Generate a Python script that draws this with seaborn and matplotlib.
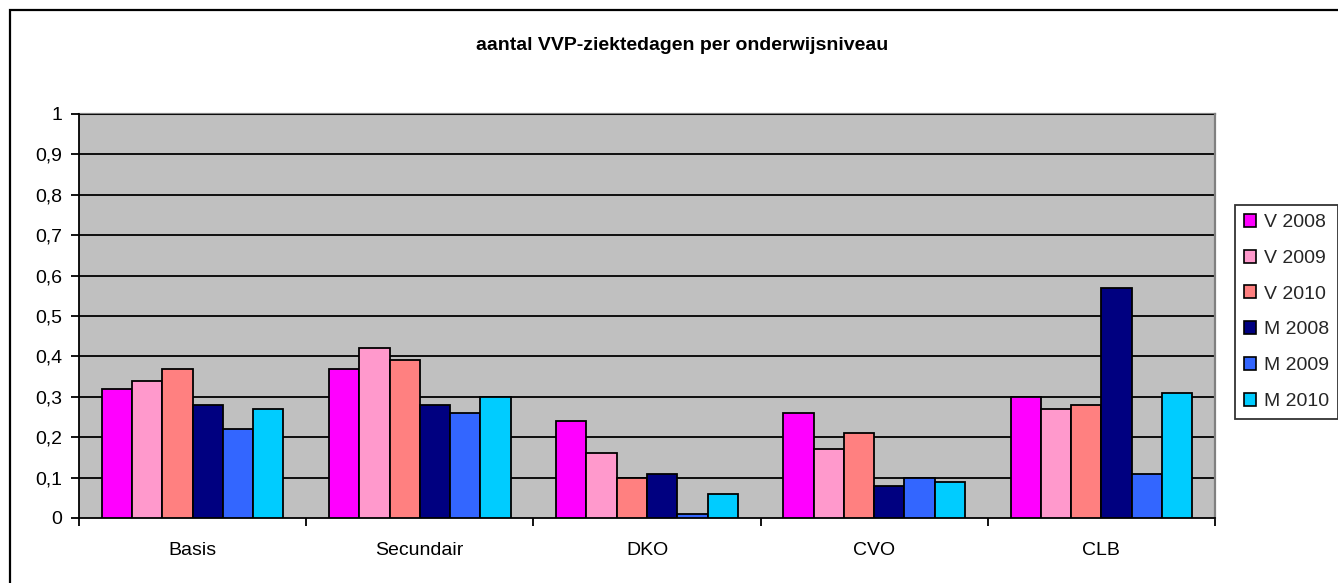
import matplotlib
matplotlib.use("Agg")
import matplotlib.pyplot as plt
from matplotlib.patches import Rectangle
from matplotlib.ticker import FixedLocator, FuncFormatter
import seaborn as sns
import pandas as pd

categories = ["Basis", "Secundair", "DKO", "CVO", "CLB"]
series = ["V 2008", "V 2009", "V 2010", "M 2008", "M 2009", "M 2010"]
v2008 = [0.32, 0.37, 0.24, 0.26, 0.30]
v2009 = [0.34, 0.42, 0.16, 0.17, 0.27]
v2010 = [0.37, 0.39, 0.10, 0.21, 0.28]
m2008 = [0.28, 0.28, 0.11, 0.08, 0.57]
m2009 = [0.22, 0.26, 0.01, 0.10, 0.11]
m2010 = [0.27, 0.30, 0.06, 0.09, 0.31]
colors = ["#FF00FF", "#FF99CC", "#FF8080", "#000080", "#3366FF", "#00CCFF"]

values = [v2008, v2009, v2010, m2008, m2009, m2010]
rows = []
for name, vals in zip(series, values):
    for cat, v in zip(categories, vals):
        rows.append({"niveau": cat, "reeks": name, "dagen": v})
df = pd.DataFrame(rows)

sns.set_theme(style="white")
plt.rcParams["font.family"] = ["Liberation Sans", "DejaVu Sans"]

W, H = 1338, 583
fig = plt.figure(figsize=(W / 100, H / 100), dpi=100)
fig.patch.set_facecolor("white")

# outer chart frame
fig.add_artist(Rectangle((10 / W, -0.1), 1.2, 1 - 10 / H + 0.1,
                         transform=fig.transFigure, fill=False,
                         edgecolor="black", linewidth=1.6))

ax = fig.add_axes([79 / W, 1 - 518 / H, (1215 - 79) / W, (518 - 114) / H])
ax.set_facecolor("#C0C0C0")

sns.barplot(data=df, x="niveau", y="dagen", hue="reeks", order=categories,
            hue_order=series, palette=colors, width=0.8, gap=0,
            edgecolor="black", linewidth=1.3, saturation=1, ax=ax,
            legend=True, errorbar=None, zorder=3)

ax.set_xlim(-0.5, len(categories) - 0.5)
ax.set_ylim(0, 1)
ax.set_xlabel("")
ax.set_ylabel("")

yt = [i / 10 for i in range(11)]
ax.set_yticks(yt)
ax.yaxis.set_major_formatter(FuncFormatter(
    lambda v, p: "0" if abs(v) < 1e-9 else ("1" if abs(v - 1) < 1e-9 else f"{v:.1f}".replace(".", ","))))
for y in yt[1:]:
    ax.axhline(y, color="black", linewidth=1.3, zorder=1)

ax.xaxis.set_minor_locator(FixedLocator([i - 0.5 for i in range(len(categories) + 1)]))
ax.tick_params(axis="x", which="major", length=0, pad=17, labelsize=14, colors="black")
ax.tick_params(axis="x", which="minor", length=6, width=1.3, direction="out", color="black", bottom=True)
ax.tick_params(axis="y", which="major", length=6, width=1.3, direction="out", left=True,
               labelsize=14, pad=6, colors="black")

for side in ["left", "bottom"]:
    ax.spines[side].set_color("black")
    ax.spines[side].set_linewidth(1.3)
for side in ["top", "right"]:
    ax.spines[side].set_color("#808080")
    ax.spines[side].set_linewidth(1.6)
ax.spines["top"].set_zorder(0)

fig.text(682 / W, 1 - 45 / H, "aantal VVP-ziektedagen per onderwijsniveau",
         ha="center", va="center", fontsize=14, fontweight="bold", color="black")

handles, labels = ax.get_legend_handles_labels()
ax.get_legend().remove()
leg = fig.legend(handles, labels, loc="upper left",
                 bbox_to_anchor=(1235 / W, 1 - 205 / H), frameon=True,
                 fancybox=False, edgecolor="black", fontsize=14,
                 handlelength=0.65, handleheight=0.65, handletextpad=0.4,
                 labelspacing=0.95, borderpad=0.45, borderaxespad=0)
leg.get_frame().set_linewidth(1.3)
for h in leg.legend_handles:
    h.set_edgecolor("black")
    h.set_linewidth(1.2)

fig.savefig("out.png", dpi=100)
